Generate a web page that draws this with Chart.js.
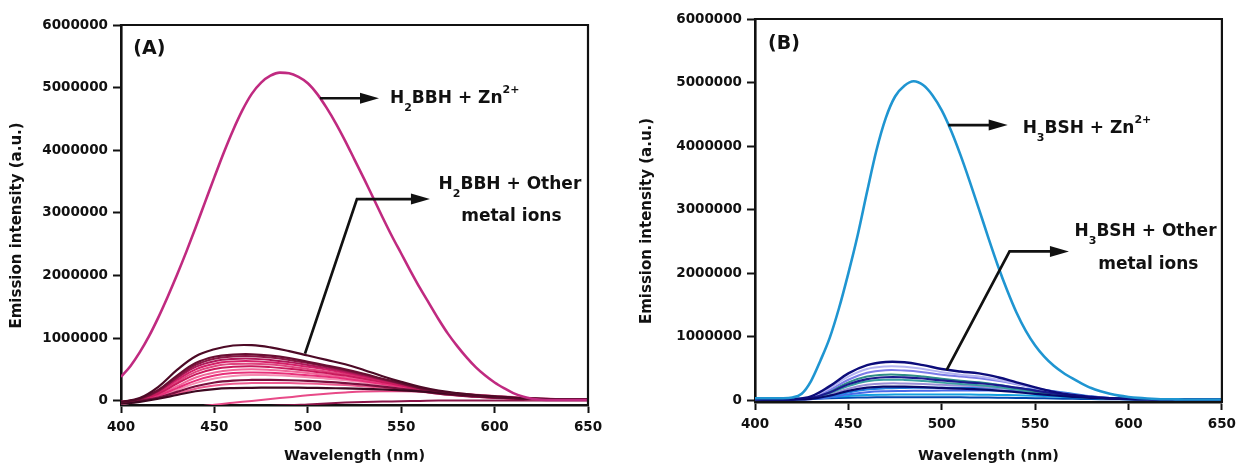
<!DOCTYPE html>
<html><head><meta charset="utf-8">
<script src="https://cdn.jsdelivr.net/npm/chart.js@4.4.1/dist/chart.umd.min.js"></script>
<style>
html,body{margin:0;padding:0;background:#fff;}
#wrap{position:relative;width:1242px;height:468px;overflow:hidden;background:#fff;}
.box{position:absolute;top:0;height:468px;}
#boxA{left:0;width:615px;}
#boxB{left:630px;width:612px;}
canvas{display:block;}
</style></head><body>
<div id="wrap">
<div class="box" id="boxA"><canvas id="cA" width="615" height="468"></canvas></div>
<div class="box" id="boxB"><canvas id="cB" width="612" height="468"></canvas></div>
</div>
<script>
// ---------------- DATA ----------------
const wavelengths5 = [400,405,410,415,420,425,430,435,440,445,450,455,460,465,470,475,480,485,490,495,500,505,510,515,520,525,530,535,540,545,550,555,560,565,570,575,580,585,590,595,600,605,610,615,620,625,630,635,640,645,650];
const wavelengths10 = [400,410,420,430,440,450,460,470,480,490,500,510,520,530,540,550,560,570,580,590,600,610,620,630,640,650];
const xTickValues = [400,450,500,550,600,650];
const yTickValues = [0,1000000,2000000,3000000,4000000,5000000,6000000];

// Panel A: H2BBH
const aZn = [380000,550000,770000,1030000,1330000,1660000,2010000,2380000,2770000,3170000,3570000,3960000,4320000,4640000,4900000,5080000,5190000,5240000,5230000,5170000,5070000,4900000,4680000,4430000,4150000,3850000,3550000,3240000,2930000,2630000,2350000,2070000,1800000,1550000,1300000,1070000,870000,690000,530000,400000,290000,200000,120000,65000,30000,15000,10000,10000,10000,10000,10000];
const aOther01 = [-20000,40000,220000,490000,710000,820000,880000,885000,850000,790000,720000,650000,580000,490000,390000,300000,220000,160000,120000,90000,70000,50000,35000,25000,20000,20000];
const aOther02 = [-30000,30000,170000,400000,600000,700000,735000,740000,720000,680000,620000,560000,500000,430000,350000,280000,200000,150000,110000,85000,65000,45000,30000,22000,18000,15000];
const aOther03 = [-40000,20000,150000,370000,570000,670000,705000,710000,690000,650000,600000,545000,485000,415000,340000,270000,195000,145000,105000,80000,60000,42000,30000,22000,18000,15000];
const aOther04 = [-30000,30000,160000,360000,540000,630000,665000,670000,650000,615000,570000,520000,465000,400000,330000,265000,190000,140000,100000,75000,55000,40000,28000,20000,15000,12000];
const aOther05 = [-20000,30000,140000,330000,500000,590000,625000,630000,612000,580000,540000,495000,445000,385000,320000,255000,185000,135000,100000,75000,55000,40000,28000,20000,15000,12000];
const aOther06 = [-40000,10000,120000,300000,460000,550000,585000,590000,575000,545000,505000,465000,420000,365000,305000,245000,180000,130000,95000,70000,50000,35000,25000,18000,14000,12000];
const aOther07 = [-20000,20000,110000,270000,420000,505000,540000,548000,535000,510000,475000,440000,400000,350000,295000,240000,175000,130000,95000,70000,50000,35000,25000,18000,14000,12000];
const aOther08 = [-50000,0,90000,230000,370000,450000,490000,500000,490000,470000,440000,410000,375000,330000,280000,230000,170000,125000,92000,68000,50000,35000,25000,18000,14000,12000];
const aOther09 = [-30000,10000,80000,200000,320000,400000,440000,450000,445000,430000,405000,380000,350000,310000,265000,220000,165000,120000,90000,66000,48000,34000,24000,18000,14000,12000];
const aOther10 = [-60000,-10000,60000,170000,280000,355000,395000,410000,405000,395000,375000,350000,325000,290000,250000,205000,155000,115000,85000,62000,45000,32000,23000,17000,13000,11000];
const aOther11 = [-40000,0,50000,140000,230000,290000,320000,330000,330000,325000,315000,300000,280000,255000,225000,190000,150000,112000,85000,62000,45000,32000,23000,17000,13000,11000];
const aOther12 = [-30000,0,40000,110000,190000,240000,270000,280000,282000,280000,272000,262000,248000,228000,205000,178000,145000,110000,82000,60000,44000,31000,22000,16000,12000,10000];
const aOther13 = [-50000,-20000,30000,90000,150000,185000,200000,205000,207000,207000,205000,200000,195000,188000,178000,165000,148000,125000,100000,78000,58000,42000,30000,22000,17000,14000];
const aOther14 = [-220000,-190000,-160000,-130000,-100000,-65000,-35000,-5000,25000,55000,85000,110000,130000,145000,150000,150000,145000,132000,115000,95000,75000,56000,40000,28000,20000,16000];
const aOther15 = [-120000,-115000,-110000,-105000,-100000,-95000,-92000,-90000,-85000,-75000,-60000,-45000,-32000,-22000,-15000,-10000,-5000,0,0,0,0,0,0,0,0,0];

// Panel B: H3BSH
const bZn = [30000,30000,30000,30000,40000,100000,300000,620000,980000,1450000,2000000,2600000,3280000,3930000,4440000,4780000,4950000,5020000,4960000,4800000,4560000,4240000,3860000,3440000,3000000,2550000,2120000,1730000,1380000,1090000,860000,680000,540000,430000,340000,260000,190000,140000,100000,70000,50000,35000,25000,18000,14000,12000,10000,10000,10000,10000,10000];
const bOther01 = [20000,15000,15000,60000,220000,420000,550000,600000,595000,550000,490000,450000,420000,360000,280000,200000,130000,80000,50000,30000,20000,15000,12000,10000,10000,10000];
const bOther02 = [20000,15000,15000,55000,190000,370000,490000,530000,525000,490000,440000,400000,370000,320000,255000,185000,125000,80000,50000,30000,20000,15000,12000,10000,10000,10000];
const bOther03 = [15000,12000,12000,45000,160000,320000,430000,470000,465000,440000,400000,370000,345000,305000,250000,190000,135000,90000,55000,32000,20000,15000,12000,10000,10000,10000];
const bOther04 = [15000,10000,10000,40000,140000,280000,370000,400000,395000,370000,335000,305000,280000,240000,190000,140000,95000,60000,38000,25000,16000,12000,10000,10000,10000,10000];
const bOther05 = [10000,8000,8000,35000,120000,250000,330000,360000,358000,340000,310000,285000,265000,235000,195000,150000,105000,70000,45000,28000,18000,13000,10000,10000,10000,10000];
const bOther06 = [10000,8000,8000,30000,110000,220000,295000,320000,318000,300000,275000,255000,235000,205000,165000,125000,88000,58000,38000,24000,16000,12000,10000,10000,10000,10000];
const bOther07 = [10000,8000,8000,25000,90000,180000,240000,262000,262000,255000,240000,228000,215000,195000,165000,130000,95000,65000,42000,26000,17000,12000,10000,10000,10000,10000];
const bOther08 = [10000,8000,8000,20000,70000,145000,195000,212000,212000,205000,192000,180000,168000,150000,125000,98000,72000,50000,33000,22000,15000,11000,10000,10000,10000,10000];
const bOther09 = [12000,10000,10000,20000,60000,120000,165000,185000,192000,195000,195000,195000,195000,192000,185000,170000,140000,100000,60000,32000,18000,12000,10000,10000,10000,10000];
const bOther10 = [10000,8000,8000,15000,45000,90000,125000,140000,145000,148000,150000,152000,152000,150000,145000,132000,110000,80000,50000,28000,16000,11000,10000,10000,10000,10000];
const bOther11 = [25000,25000,25000,30000,45000,65000,80000,85000,87000,88000,88000,87000,85000,82000,76000,68000,57000,44000,32000,22000,15000,11000,10000,10000,10000,10000];
const bOther12 = [20000,20000,20000,22000,30000,38000,42000,44000,45000,45000,44000,43000,41000,38000,34000,30000,25000,20000,16000,13000,11000,10000,10000,10000,10000,10000];

// ---------------- STYLE ----------------
const FONT = '"DejaVu Sans", "Liberation Sans", Arial, sans-serif';
const INK = '#111111';

function pts(xs, ys){ return xs.map((x,i)=>({x:x, y:ys[i]})); }
function ds(xs, ys, color, width, mono){
  const d = {data:pts(xs,ys), borderColor:color, borderWidth:width, pointRadius:0, fill:false, clip:0};
  if (mono) d.cubicInterpolationMode = 'monotone'; else d.tension = 0.4;
  return d;
}

const datasetsA = [
  ds(wavelengths5, aZn, '#c02a80', 2.6, true),
  ds(wavelengths10, aOther01, '#4d0a26', 2.2),
  ds(wavelengths10, aOther02, '#6a0f33', 2.2),
  ds(wavelengths10, aOther13, '#3d0820', 2.2),
  ds(wavelengths10, aOther11, '#7a0f3e', 2.2),
  ds(wavelengths10, aOther03, '#8c1645', 2),
  ds(wavelengths10, aOther04, '#b0185a', 2),
  ds(wavelengths10, aOther07, '#c91a5d', 2),
  ds(wavelengths10, aOther05, '#d42068', 2),
  ds(wavelengths10, aOther06, '#e0457f', 2),
  ds(wavelengths10, aOther09, '#e8307a', 2),
  ds(wavelengths10, aOther08, '#f0679a', 2),
  ds(wavelengths10, aOther10, '#f58cb2', 2),
  ds(wavelengths10, aOther12, '#ee5a90', 2),
  ds(wavelengths10, aOther14, '#e84a88', 2),
  ds(wavelengths10, aOther15, '#8a1448', 2)
];
const datasetsB = [
  ds(wavelengths5, bZn, '#1f95d1', 2.6, true),
  ds(wavelengths10, bOther01, '#0c0c7a', 2.4),
  ds(wavelengths10, bOther08, '#08086a', 2.2),
  ds(wavelengths10, bOther05, '#1a1a8e', 2.2),
  ds(wavelengths10, bOther02, '#b4b4f2', 2),
  ds(wavelengths10, bOther03, '#7c7ce8', 2),
  ds(wavelengths10, bOther04, '#2e8c88', 2),
  ds(wavelengths10, bOther06, '#3aa0a0', 2),
  ds(wavelengths10, bOther07, '#9a8ed6', 2),
  ds(wavelengths10, bOther09, '#1f7fe0', 2),
  ds(wavelengths10, bOther10, '#4a6ae8', 2),
  ds(wavelengths10, bOther11, '#14a0e0', 2),
  ds(wavelengths10, bOther12, '#0048b0', 2)
];

// annotations (data coordinates)
const annotA = {
  panel:{text:'(A)', x:406.6, y:5610000},
  arrows:[
    [[506.5,4830000],[538.1,4830000]],
    [[498.5,750000],[526.3,3220000],[565.4,3220000]]
  ],
  texts:[
    {runs:[['H'],['2','sub'],['BBH + Zn'],['2+','sup']], x:544, y:4860000, align:'left'},
    {runs:[['H'],['2','sub'],['BBH + Other']], x:608.2, y:3480000, align:'center'},
    {runs:[['metal ions']], x:609, y:2970000, align:'center'}
  ]
};
const annotB = {
  panel:{text:'(B)', x:407, y:5600000},
  arrows:[
    [[503.5,4330000],[535.3,4330000]],
    [[502.6,470000],[536.3,2340000],[568.1,2340000]]
  ],
  texts:[
    {runs:[['H'],['3','sub'],['BSH + Zn'],['2+','sup']], x:543.3, y:4310000, align:'left'},
    {runs:[['H'],['3','sub'],['BSH + Other']], x:609.1, y:2680000, align:'center'},
    {runs:[['metal ions']], x:610.6, y:2160000, align:'center'}
  ]
};

const framePlugin = {
  id:'frame',
  afterDraw(chart){
    const {ctx, chartArea:{left,top,right,bottom}} = chart;
    ctx.save();
    ctx.strokeStyle = INK; ctx.lineWidth = 2.2; ctx.lineCap = 'square';
    ctx.beginPath(); ctx.moveTo(left, top); ctx.lineTo(right, top); ctx.lineTo(right, bottom); ctx.stroke();
    ctx.restore();
  }
};

function drawRuns(ctx, runs, x, yc, align){
  const big = 'bold 17px ' + FONT, small = 'bold 11px ' + FONT;
  let w = 0;
  runs.forEach(r => { ctx.font = r[1] ? small : big; w += ctx.measureText(r[0]).width; });
  let cx = align === 'center' ? x - w/2 : x;
  const base = yc + 6.2;
  ctx.textAlign = 'left'; ctx.textBaseline = 'alphabetic'; ctx.fillStyle = INK;
  runs.forEach(r => {
    ctx.font = r[1] ? small : big;
    const dy = r[1] === 'sub' ? 8 : (r[1] === 'sup' ? -10 : 0);
    ctx.fillText(r[0], cx, base + dy);
    cx += ctx.measureText(r[0]).width;
  });
}

function makeAnnotPlugin(ann){
  return {
    id:'annot',
    afterDatasetsDraw(chart){
      const {ctx, scales:{x, y}} = chart;
      ctx.save();
      ann.arrows.forEach(path => {
        const p = path.map(q => [x.getPixelForValue(q[0]), y.getPixelForValue(q[1])]);
        const n = p.length;
        const [x1,y1] = p[n-2], [x2,y2] = p[n-1];
        const ang = Math.atan2(y2-y1, x2-x1);
        const headLen = 19, headHalf = 5.5;
        const bx = x2 - headLen*Math.cos(ang), by = y2 - headLen*Math.sin(ang);
        ctx.strokeStyle = INK; ctx.lineWidth = 2.7; ctx.lineJoin = 'miter';
        ctx.beginPath(); ctx.moveTo(p[0][0], p[0][1]);
        for (let i = 1; i < n-1; i++) ctx.lineTo(p[i][0], p[i][1]);
        ctx.lineTo(bx + 2*Math.cos(ang), by + 2*Math.sin(ang));
        ctx.stroke();
        ctx.fillStyle = INK;
        ctx.beginPath();
        ctx.moveTo(x2, y2);
        ctx.lineTo(bx - headHalf*Math.sin(ang), by + headHalf*Math.cos(ang));
        ctx.lineTo(bx + headHalf*Math.sin(ang), by - headHalf*Math.cos(ang));
        ctx.closePath(); ctx.fill();
      });
      ann.texts.forEach(t => drawRuns(ctx, t.runs, x.getPixelForValue(t.x), y.getPixelForValue(t.y), t.align));
      ctx.font = 'bold 19px ' + FONT; ctx.fillStyle = INK; ctx.textAlign = 'left'; ctx.textBaseline = 'middle';
      ctx.fillText(ann.panel.text, x.getPixelForValue(ann.panel.x), y.getPixelForValue(ann.panel.y));
      ctx.restore();
    }
  };
}

function makeOptions(cfg){
  const tickFont = {family:FONT, weight:'bold', size:13.5};
  const gridCfg = {display:true, drawOnChartArea:false, drawTicks:true, tickLength:8, tickWidth:2, tickColor:INK};
  const borderCfg = {display:true, color:INK, width:2.6};
  return {
    responsive:false, animation:false, events:[],
    layout:{padding:{left:0, top:cfg.padTop, right:cfg.padRight, bottom:0}},
    plugins:{legend:{display:false}, tooltip:{enabled:false}},
    scales:{
      x:{type:'linear', min:400, max:650,
        afterFit:s => { s.height = cfg.xAxisHeight; },
        afterBuildTicks:s => { s.ticks = xTickValues.map(v => ({value:v})); },
        border:borderCfg, grid:gridCfg,
        ticks:{color:INK, font:tickFont, padding:6, maxRotation:0, autoSkip:false, callback:v => String(v)},
        title:{display:true, text:'Wavelength (nm)', color:INK, font:{family:FONT, weight:'bold', size:14.5}, padding:{top:0, bottom:3}}
      },
      y:{type:'linear', min:cfg.yMin, max:6000000,
        afterFit:s => { s.width = cfg.yAxisWidth; },
        afterBuildTicks:s => { s.ticks = yTickValues.map(v => ({value:v})); },
        border:borderCfg, grid:gridCfg,
        ticks:{color:INK, font:tickFont, padding:5, autoSkip:false, callback:v => String(v)},
        title:{display:true, text:'Emission intensity (a.u.)    ', color:INK, font:{family:FONT, weight:'bold', size:15}, padding:{top:8.5, bottom:0}}
      }
    }
  };
}

new Chart(document.getElementById('cA'), {
  type:'line',
  data:{datasets:datasetsA},
  options:makeOptions({padTop:25, padRight:27, xAxisHeight:63, yAxisWidth:121, yMin:-70000}),
  plugins:[framePlugin, makeAnnotPlugin(annotA)]
});
new Chart(document.getElementById('cB'), {
  type:'line',
  data:{datasets:datasetsB},
  options:makeOptions({padTop:19, padRight:16, xAxisHeight:66, yAxisWidth:125, yMin:-30000}),
  plugins:[framePlugin, makeAnnotPlugin(annotB)]
});
</script>
</body></html>
